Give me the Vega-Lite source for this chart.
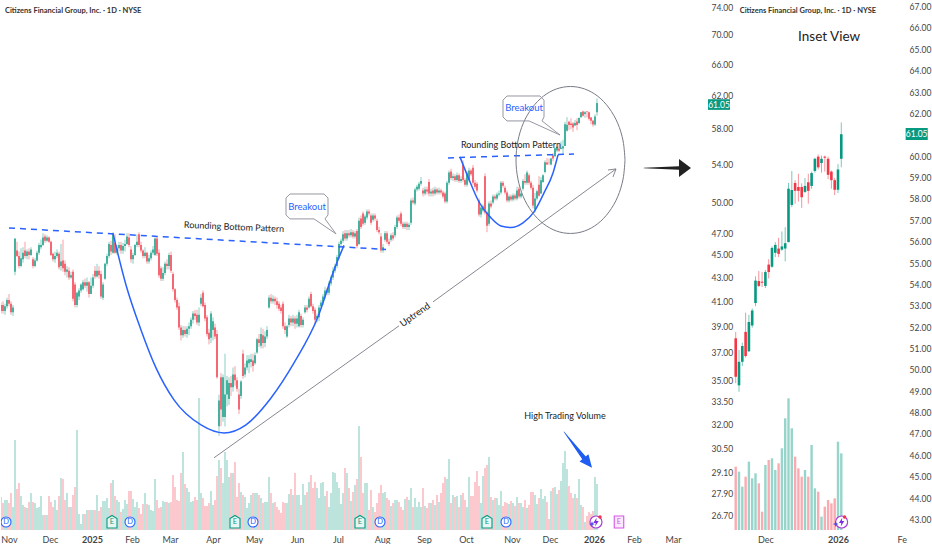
{
"$schema":"https://vega.github.io/schema/vega-lite/v6.json",
"description":"Citizens Financial Group daily chart with rounding bottom patterns and inset view",
"background":"white",
"padding":0,
"spacing":0,
"config":{"view":{"stroke":null},"font":"Lato"},
"datasets":{"bars":[
{"b":0,"o":40.2,"h":40.9,"l":40,"c":40.7,"v":3.3},{"b":1,"o":40.7,"h":41,"l":40,"c":40.2,"v":2.7},{"b":2,"o":40.2,"h":40.8,"l":39.9,"c":40.6,"v":3},{"b":3,"o":40.6,"h":41.3,"l":40.4,"c":41.1,"v":3},{"b":4,"o":41.1,"h":41.6,"l":40.6,"c":40.8,"v":2.7},{"b":5,"o":40.8,"h":41,"l":39.9,"c":40.1,"v":3.7},{"b":6,"o":40.1,"h":40.7,"l":39.8,"c":40.5,"v":2.3},{"b":7,"o":43.5,"h":46.5,"l":43.2,"c":46.5,"v":9},{"b":8,"o":45.4,"h":46.2,"l":44.8,"c":44.9,"v":4.1},{"b":9,"o":44.9,"h":45.3,"l":43.8,"c":44,"v":4.7},
{"b":10,"o":44,"h":45.6,"l":43.9,"c":44.7,"v":3.4},{"b":11,"o":44.6,"h":45.7,"l":44.3,"c":45.2,"v":2.5},{"b":12,"o":45.4,"h":46.2,"l":44.7,"c":44.9,"v":2.3},{"b":13,"o":44.9,"h":45.5,"l":44.6,"c":45.3,"v":2.2},{"b":14,"o":45.3,"h":45.6,"l":44.6,"c":45,"v":2.8},{"b":15,"o":45,"h":45.7,"l":44.9,"c":45.5,"v":3.7},{"b":16,"o":44.6,"h":44.8,"l":43.8,"c":44,"v":2.8},{"b":17,"o":44,"h":44.7,"l":43.9,"c":44.5,"v":2.7},{"b":18,"o":44.5,"h":45.4,"l":44.4,"c":45.2,"v":2.2},{"b":19,"o":45.2,"h":46.1,"l":45,"c":45.9,"v":2.3},
{"b":20,"o":45.7,"h":46.4,"l":45.5,"c":45.9,"v":3.4},{"b":21,"o":45.9,"h":47,"l":45.8,"c":46.6,"v":1.5},{"b":22,"o":46.7,"h":46.9,"l":46.1,"c":46.3,"v":1.5},{"b":23,"o":46.3,"h":46.8,"l":46.2,"c":46.6,"v":1.5},{"b":24,"o":46.6,"h":46.7,"l":46.1,"c":46.2,"v":3.4},{"b":25,"o":46.2,"h":46.3,"l":44.9,"c":45,"v":2.8},{"b":26,"o":45.1,"h":45.2,"l":44.4,"c":44.6,"v":2.3},{"b":27,"o":44.6,"h":45.3,"l":44.3,"c":44.9,"v":3},{"b":28,"o":44.9,"h":45.5,"l":44.7,"c":45.2,"v":2},{"b":29,"o":45.1,"h":45.3,"l":43.7,"c":43.9,"v":3.4},
{"b":30,"o":44,"h":46,"l":43.6,"c":44.4,"v":5.2},{"b":31,"o":44.5,"h":46.4,"l":43.5,"c":43.8,"v":5.1},{"b":32,"o":44.2,"h":44.5,"l":43.2,"c":43.5,"v":3},{"b":33,"o":43.5,"h":44,"l":43,"c":43.7,"v":3.7},{"b":34,"o":43.6,"h":43.9,"l":42.8,"c":43,"v":2.3},{"b":35,"o":43,"h":43.5,"l":42.9,"c":43.2,"v":2.3},{"b":36,"o":43.5,"h":43.7,"l":41,"c":41.2,"v":3.5},{"b":37,"o":42.4,"h":42.6,"l":40.5,"c":40.7,"v":4.3},{"b":38,"o":40.7,"h":41.8,"l":40.5,"c":41.7,"v":10},{"b":39,"o":41.4,"h":42.1,"l":41.1,"c":41.9,"v":1.6},
{"b":40,"o":41.9,"h":42.5,"l":41.7,"c":42.4,"v":0.6},{"b":41,"o":42,"h":42.8,"l":41.9,"c":42.6,"v":1.6},{"b":42,"o":42.6,"h":42.9,"l":42.1,"c":42.3,"v":1.6},{"b":43,"o":42.3,"h":43,"l":41.8,"c":42.6,"v":2},{"b":44,"o":42.6,"h":42.7,"l":41.3,"c":41.6,"v":2},{"b":45,"o":41.6,"h":43,"l":41.6,"c":42.3,"v":2},{"b":46,"o":42.3,"h":43.3,"l":42.1,"c":43,"v":2},{"b":47,"o":43.6,"h":44,"l":42.9,"c":43.1,"v":2},{"b":48,"o":43.1,"h":44.2,"l":43,"c":43.6,"v":3.5},{"b":49,"o":43.6,"h":44,"l":42.9,"c":43.2,"v":1.9},
{"b":50,"o":43.3,"h":43.6,"l":41.2,"c":41.4,"v":2.3},{"b":51,"o":41.3,"h":42.6,"l":41.1,"c":42.4,"v":2.9},{"b":52,"o":42.9,"h":44.3,"l":42.8,"c":44.2,"v":2.9},{"b":53,"o":44.2,"h":45.1,"l":44,"c":44.9,"v":3.2},{"b":54,"o":44.9,"h":46.2,"l":44.7,"c":46,"v":2.2},{"b":55,"o":45.9,"h":46.3,"l":45,"c":45.3,"v":4.7},{"b":56,"o":45.2,"h":47.1,"l":45.1,"c":46.9,"v":5},{"b":57,"o":46.1,"h":46.9,"l":45.1,"c":45.2,"v":3.4},{"b":58,"o":45.2,"h":45.9,"l":45,"c":45.6,"v":3},{"b":59,"o":45.6,"h":46.2,"l":45.3,"c":45.9,"v":2.8},
{"b":60,"o":45.9,"h":46.2,"l":45.1,"c":45.4,"v":1.8},{"b":61,"o":45.4,"h":46.1,"l":45.1,"c":45.8,"v":2.1},{"b":62,"o":45.8,"h":46.4,"l":45.3,"c":46,"v":3},{"b":63,"o":46,"h":47,"l":45.9,"c":46.7,"v":2.6},{"b":64,"o":46.6,"h":47,"l":45.7,"c":45.9,"v":3.9},{"b":65,"o":45.5,"h":45.8,"l":44.3,"c":44.6,"v":3.9},{"b":66,"o":44.6,"h":45.2,"l":44.2,"c":45,"v":3.1},{"b":67,"o":45,"h":46,"l":44.9,"c":45.9,"v":2.3},{"b":68,"o":45.9,"h":46.9,"l":45.7,"c":46.2,"v":2.8},{"b":69,"o":46.9,"h":47.1,"l":45.7,"c":45.9,"v":2.2},
{"b":70,"o":45.9,"h":46.2,"l":45.2,"c":45.4,"v":1.6},{"b":71,"o":45.4,"h":45.5,"l":44.7,"c":44.9,"v":2.6},{"b":72,"o":44.9,"h":45.7,"l":44.7,"c":45.2,"v":3.7},{"b":73,"o":45.2,"h":45.3,"l":44.2,"c":44.4,"v":2.6},{"b":74,"o":44.4,"h":45,"l":44.2,"c":44.7,"v":2.5},{"b":75,"o":44.7,"h":45.4,"l":44.5,"c":45.2,"v":2},{"b":76,"o":45.2,"h":45.8,"l":45,"c":45.5,"v":1.9},{"b":77,"o":45,"h":46.6,"l":44.9,"c":46.5,"v":5.1},{"b":78,"o":46.5,"h":46.7,"l":44.9,"c":45.1,"v":3},{"b":79,"o":45.2,"h":45.5,"l":43,"c":43.2,"v":2.2},
{"b":80,"o":43.8,"h":44,"l":42.7,"c":42.9,"v":2.3},{"b":81,"o":42.9,"h":43.9,"l":42.7,"c":43.4,"v":2.9},{"b":82,"o":43.4,"h":44.4,"l":43.2,"c":44.2,"v":2.8},{"b":83,"o":44.2,"h":44.6,"l":43.7,"c":44,"v":2.8},{"b":84,"o":44,"h":45.2,"l":43.7,"c":45,"v":2.7},{"b":85,"o":45,"h":45.3,"l":43.4,"c":43.6,"v":2.8},{"b":86,"o":43.3,"h":43.5,"l":41.8,"c":42,"v":5.5},{"b":87,"o":42,"h":42.1,"l":40.9,"c":41.1,"v":4.3},{"b":88,"o":41.1,"h":41.3,"l":40.3,"c":40.5,"v":3},{"b":89,"o":40.6,"h":40.9,"l":38.7,"c":38.9,"v":2.9},
{"b":90,"o":38.9,"h":39.1,"l":37.9,"c":38.3,"v":5.7},{"b":91,"o":38.3,"h":39,"l":38.1,"c":38.7,"v":7.8},{"b":92,"o":38.7,"h":39,"l":38.2,"c":38.4,"v":4.6},{"b":93,"o":38.4,"h":39,"l":38.1,"c":38.8,"v":4.2},{"b":94,"o":38.8,"h":39.3,"l":38.3,"c":39,"v":3.8},{"b":95,"o":39,"h":39.7,"l":38.8,"c":39.5,"v":2.8},{"b":96,"o":39.5,"h":40.2,"l":39.2,"c":40,"v":2.9},{"b":97,"o":40,"h":40.3,"l":39.5,"c":39.8,"v":3.3},{"b":98,"o":39.9,"h":40.3,"l":39.1,"c":39.3,"v":3},{"b":99,"o":39.3,"h":40.5,"l":39,"c":39.9,"v":13.2},
{"b":100,"o":40.8,"h":41.6,"l":40.6,"c":41.3,"v":3.7},{"b":101,"o":41.7,"h":41.9,"l":40.5,"c":40.6,"v":3.2},{"b":102,"o":40.7,"h":40.9,"l":39.4,"c":39.6,"v":2.4},{"b":103,"o":39.7,"h":39.9,"l":38.2,"c":38.4,"v":2.4},{"b":104,"o":38.5,"h":38.8,"l":37.6,"c":38,"v":2.7},{"b":105,"o":38.1,"h":40.2,"l":37.7,"c":40,"v":3.9},{"b":106,"o":38.7,"h":39.7,"l":37.9,"c":39.4,"v":2.5},{"b":107,"o":38.9,"h":39.2,"l":38,"c":38.2,"v":3},{"b":108,"o":38.4,"h":38.7,"l":35.1,"c":35.2,"v":5.4},{"b":109,"o":31.9,"h":34,"l":31.3,"c":33.6,"v":7},
{"b":110,"o":35.2,"h":35.5,"l":31.9,"c":33,"v":6.2},{"b":111,"o":32.5,"h":35.4,"l":32.2,"c":35.2,"v":4.7},{"b":112,"o":32.5,"h":36.9,"l":31.9,"c":34,"v":7.8},{"b":113,"o":34,"h":35.3,"l":33.2,"c":35,"v":7},{"b":114,"o":33.7,"h":35.2,"l":33.3,"c":34.8,"v":5.3},{"b":115,"o":34.8,"h":35.3,"l":33.9,"c":34.5,"v":5.7},{"b":116,"o":34.5,"h":35.9,"l":34.2,"c":35.4,"v":5.7},{"b":117,"o":35.4,"h":36,"l":34.6,"c":35,"v":6.8},{"b":118,"o":35,"h":35.2,"l":34.2,"c":34.4,"v":3.3},{"b":119,"o":34,"h":34.4,"l":32.7,"c":33,"v":4.7},
{"b":120,"o":33.9,"h":35,"l":33.7,"c":34.9,"v":3.8},{"b":121,"o":36.9,"h":37.2,"l":35.1,"c":35.3,"v":3.5},{"b":122,"o":35.4,"h":36.2,"l":35.2,"c":35.9,"v":3.3},{"b":123,"o":35.9,"h":36.8,"l":35.7,"c":36.4,"v":2.2},{"b":124,"o":36.2,"h":36.8,"l":35.5,"c":36.5,"v":2.7},{"b":125,"o":36.3,"h":36.9,"l":35.9,"c":36.5,"v":3.5},{"b":126,"o":36.4,"h":36.9,"l":35.6,"c":36,"v":3.7},{"b":127,"o":36.2,"h":37,"l":36.1,"c":36.8,"v":3.7},{"b":128,"o":37,"h":38.1,"l":36.9,"c":38,"v":3.7},{"b":129,"o":38,"h":38.4,"l":37.4,"c":37.7,"v":3.5},
{"b":130,"o":37.5,"h":38.9,"l":37.3,"c":38.4,"v":3.2},{"b":131,"o":38.3,"h":38.8,"l":37.3,"c":37.7,"v":2.7},{"b":132,"o":37.7,"h":38.6,"l":37.4,"c":38.2,"v":2.8},{"b":133,"o":38.2,"h":39,"l":38,"c":38.7,"v":2.8},{"b":134,"o":40.5,"h":41.5,"l":40.4,"c":41.3,"v":5.3},{"b":135,"o":41.3,"h":41.6,"l":40.8,"c":41,"v":3.7},{"b":136,"o":41,"h":41.5,"l":40.8,"c":41.2,"v":2.7},{"b":137,"o":41.2,"h":41.4,"l":40.7,"c":41,"v":2.8},{"b":138,"o":41,"h":41.3,"l":40.4,"c":40.7,"v":2.3},{"b":139,"o":40.8,"h":41,"l":40.2,"c":40.4,"v":2},
{"b":140,"o":40.5,"h":40.7,"l":40,"c":40.2,"v":1.7},{"b":141,"o":40.8,"h":41,"l":38.8,"c":39,"v":2.8},{"b":142,"o":39,"h":39.3,"l":38.4,"c":38.7,"v":2.7},{"b":143,"o":38.2,"h":39.1,"l":38.1,"c":39,"v":2.7},{"b":144,"o":39.1,"h":39.9,"l":38.9,"c":39.6,"v":3.6},{"b":145,"o":39.6,"h":39.8,"l":39,"c":39.3,"v":4.1},{"b":146,"o":39.3,"h":39.9,"l":39,"c":39.6,"v":3.5},{"b":147,"o":39.6,"h":39.8,"l":38.8,"c":39.2,"v":5.7},{"b":148,"o":39.2,"h":39.9,"l":38.9,"c":39.6,"v":3.5},{"b":149,"o":39,"h":40.3,"l":38.9,"c":40.1,"v":3.5},
{"b":150,"o":39.8,"h":40,"l":38.9,"c":39.1,"v":2.5},{"b":151,"o":39.1,"h":39.7,"l":38.9,"c":39.5,"v":4.6},{"b":152,"o":40.1,"h":40.7,"l":40,"c":40.5,"v":3.5},{"b":153,"o":40.5,"h":40.7,"l":40.1,"c":40.3,"v":3.8},{"b":154,"o":40.5,"h":41.4,"l":40.4,"c":41.2,"v":4.8},{"b":155,"o":41.6,"h":41.8,"l":40.5,"c":40.6,"v":5.5},{"b":156,"o":40.6,"h":40.8,"l":40,"c":40.2,"v":4.2},{"b":157,"o":40.3,"h":40.5,"l":39.2,"c":39.5,"v":4.8},{"b":158,"o":39.6,"h":40,"l":39.3,"c":39.8,"v":4.2},{"b":159,"o":39.7,"h":40.7,"l":39.4,"c":40.5,"v":3.2},
{"b":160,"o":40.6,"h":41.1,"l":40.4,"c":40.9,"v":4.7},{"b":161,"o":40.9,"h":41.6,"l":40.7,"c":41.4,"v":4.8},{"b":162,"o":41.4,"h":42.2,"l":41.2,"c":41.9,"v":3.4},{"b":163,"o":41.9,"h":42.1,"l":41.5,"c":41.7,"v":3.9},{"b":164,"o":41.7,"h":42.7,"l":41.5,"c":42.5,"v":2.3},{"b":165,"o":42.5,"h":43.2,"l":42.3,"c":43,"v":3.7},{"b":166,"o":43,"h":43.9,"l":42.8,"c":43.6,"v":5.8},{"b":167,"o":43.6,"h":44.2,"l":43.4,"c":44,"v":5.7},{"b":168,"o":44,"h":45,"l":43.8,"c":44.8,"v":4.8},{"b":169,"o":44.8,"h":46.2,"l":44.6,"c":46,"v":4.2},
{"b":170,"o":46,"h":46.5,"l":45.8,"c":46.3,"v":2.6},{"b":171,"o":46.3,"h":47.2,"l":46.1,"c":46.9,"v":3.7},{"b":172,"o":47,"h":47.3,"l":46.3,"c":46.5,"v":6.2},{"b":173,"o":46.5,"h":47.3,"l":46.3,"c":47,"v":5.7},{"b":174,"o":47,"h":47.3,"l":46.6,"c":46.8,"v":4.2},{"b":175,"o":46.8,"h":47.4,"l":46.6,"c":47.1,"v":2.9},{"b":176,"o":47.1,"h":47.3,"l":46.5,"c":46.7,"v":3.8},{"b":177,"o":46.7,"h":47.2,"l":46.5,"c":47,"v":4.5},{"b":178,"o":47.2,"h":47.4,"l":45.6,"c":45.8,"v":5.1},{"b":179,"o":46,"h":48.5,"l":45.9,"c":48.2,"v":10.4},
{"b":180,"o":48.4,"h":48.7,"l":47.4,"c":47.6,"v":7.3},{"b":181,"o":48.9,"h":49.1,"l":47.7,"c":47.9,"v":3.7},{"b":182,"o":48,"h":48.8,"l":47.8,"c":48.6,"v":4.7},{"b":183,"o":48.5,"h":49.3,"l":48.3,"c":49.1,"v":4.7},{"b":184,"o":49.1,"h":49.3,"l":48.7,"c":48.9,"v":2},{"b":185,"o":48.7,"h":48.9,"l":47.8,"c":48,"v":4},{"b":186,"o":48.3,"h":48.9,"l":48.1,"c":48.7,"v":2.3},{"b":187,"o":48.7,"h":48.9,"l":48.2,"c":48.4,"v":1.8},{"b":188,"o":48.2,"h":48.4,"l":47.1,"c":47.3,"v":2.7},{"b":189,"o":47.3,"h":47.6,"l":46.9,"c":47.1,"v":3.7},
{"b":190,"o":46.7,"h":47,"l":45.2,"c":45.4,"v":4.5},{"b":191,"o":45.4,"h":46,"l":45.2,"c":45.7,"v":3.7},{"b":192,"o":46.4,"h":47.2,"l":46.2,"c":47,"v":3.8},{"b":193,"o":47,"h":47.2,"l":46,"c":46.2,"v":3.2},{"b":194,"o":46.2,"h":46.5,"l":45.8,"c":46,"v":3},{"b":195,"o":46.4,"h":47,"l":46.2,"c":46.8,"v":2.4},{"b":196,"o":46.8,"h":47.1,"l":46.3,"c":46.5,"v":2.7},{"b":197,"o":46.8,"h":47.8,"l":46.6,"c":47.6,"v":3},{"b":198,"o":47.6,"h":48.7,"l":47.4,"c":48.5,"v":3},{"b":199,"o":48.5,"h":48.8,"l":48,"c":48.2,"v":2.8},
{"b":200,"o":48.9,"h":49.1,"l":47.7,"c":47.9,"v":2.3},{"b":201,"o":47.9,"h":48.1,"l":47.4,"c":47.6,"v":2},{"b":202,"o":47.6,"h":48.1,"l":47.4,"c":47.9,"v":3.1},{"b":203,"o":47.9,"h":48.1,"l":47.3,"c":47.6,"v":3.3},{"b":204,"o":47.6,"h":48,"l":47.3,"c":47.8,"v":3},{"b":205,"o":48,"h":50.4,"l":47.8,"c":50.2,"v":4.2},{"b":206,"o":50.2,"h":50.5,"l":49.8,"c":50,"v":2.3},{"b":207,"o":49.9,"h":51.5,"l":49.7,"c":51.3,"v":3.2},{"b":208,"o":51.3,"h":51.8,"l":51.1,"c":51.6,"v":2.3},{"b":209,"o":51.4,"h":52.1,"l":51.2,"c":51.9,"v":2.8},
{"b":210,"o":51.9,"h":52.6,"l":51.7,"c":52.2,"v":2.3},{"b":211,"o":51.2,"h":51.5,"l":50.6,"c":50.9,"v":4.2},{"b":212,"o":50.9,"h":51.6,"l":50.7,"c":51.3,"v":2.4},{"b":213,"o":51.3,"h":51.6,"l":50.8,"c":51.1,"v":2.2},{"b":214,"o":52.1,"h":52.4,"l":50.6,"c":50.9,"v":2.7},{"b":215,"o":50.9,"h":51.4,"l":50.6,"c":51.1,"v":2.7},{"b":216,"o":51.2,"h":51.5,"l":50.6,"c":50.9,"v":3},{"b":217,"o":50.9,"h":51.6,"l":50.7,"c":51.3,"v":2.5},{"b":218,"o":51.3,"h":51.5,"l":50.8,"c":51,"v":3.5},{"b":219,"o":51,"h":51.5,"l":50.8,"c":51.2,"v":2.8},
{"b":220,"o":51.2,"h":51.4,"l":50.8,"c":51,"v":3.7},{"b":221,"o":51,"h":51.2,"l":50.4,"c":50.6,"v":4.7},{"b":222,"o":50.9,"h":51.1,"l":49.9,"c":50.1,"v":5.3},{"b":223,"o":50.1,"h":52.2,"l":49.9,"c":52,"v":5.1},{"b":224,"o":52,"h":53.3,"l":51.8,"c":53.1,"v":7.1},{"b":225,"o":53.2,"h":53.5,"l":52.3,"c":52.5,"v":2.7},{"b":226,"o":52.5,"h":53,"l":52.2,"c":52.7,"v":3.5},{"b":227,"o":52.7,"h":52.9,"l":52.1,"c":52.3,"v":3.3},{"b":228,"o":52.3,"h":53.1,"l":52.1,"c":52.8,"v":3.4},{"b":229,"o":52.8,"h":53,"l":52,"c":52.2,"v":2.3},
{"b":230,"o":52.2,"h":52.7,"l":52,"c":52.4,"v":3.5},{"b":231,"o":53.9,"h":54.4,"l":52.1,"c":52.3,"v":3.7},{"b":232,"o":52.3,"h":52.5,"l":51.6,"c":51.8,"v":3},{"b":233,"o":51.8,"h":53.2,"l":51.6,"c":53,"v":2.3},{"b":234,"o":52.3,"h":53.6,"l":52.1,"c":53.3,"v":5.3},{"b":235,"o":53.3,"h":53.5,"l":52.7,"c":52.9,"v":3.4},{"b":236,"o":53.6,"h":53.9,"l":51.8,"c":52,"v":3.4},{"b":237,"o":52,"h":52.3,"l":51.4,"c":51.6,"v":4.8},{"b":238,"o":51.9,"h":52.1,"l":51,"c":51.2,"v":5.9},{"b":239,"o":50.2,"h":50.4,"l":48.6,"c":48.8,"v":4.4},
{"b":240,"o":48.8,"h":49.7,"l":48.5,"c":49.5,"v":2.7},{"b":241,"o":49.2,"h":49.8,"l":49,"c":49.6,"v":5.4},{"b":242,"o":52.7,"h":53,"l":48.8,"c":49,"v":6.2},{"b":243,"o":49,"h":49.2,"l":47.1,"c":47.7,"v":6.5},{"b":244,"o":47.9,"h":50.1,"l":47.7,"c":49.9,"v":7.3},{"b":245,"o":49.9,"h":50.2,"l":49.4,"c":49.6,"v":3.3},{"b":246,"o":50,"h":50.8,"l":49.8,"c":50.6,"v":3},{"b":247,"o":50.6,"h":50.8,"l":50.2,"c":50.4,"v":3.2},{"b":248,"o":50.4,"h":51,"l":50.2,"c":50.8,"v":3.2},{"b":249,"o":50.8,"h":51.2,"l":50.6,"c":50.9,"v":2.5},
{"b":250,"o":51,"h":52.2,"l":50.8,"c":52,"v":3.9},{"b":251,"o":52,"h":52.2,"l":51.5,"c":51.7,"v":2.4},{"b":252,"o":51.5,"h":51.7,"l":50.8,"c":51,"v":2.8},{"b":253,"o":51,"h":51.2,"l":50,"c":50.2,"v":2.7},{"b":254,"o":50.2,"h":50.8,"l":50,"c":50.6,"v":2.6},{"b":255,"o":50.6,"h":50.8,"l":50.1,"c":50.3,"v":2.9},{"b":256,"o":50.3,"h":50.9,"l":50.1,"c":50.7,"v":2.7},{"b":257,"o":50.7,"h":50.9,"l":50.2,"c":50.4,"v":2.4},{"b":258,"o":50.4,"h":51.6,"l":50.2,"c":51.2,"v":3.3},{"b":259,"o":51.4,"h":51.6,"l":50.4,"c":50.6,"v":2.7},
{"b":260,"o":50.6,"h":51.1,"l":50.4,"c":50.9,"v":2.7},{"b":261,"o":51.4,"h":52.4,"l":51.2,"c":52.2,"v":2.3},{"b":262,"o":52.2,"h":52.9,"l":51.8,"c":52,"v":3},{"b":263,"o":52,"h":53.3,"l":51.8,"c":53.1,"v":2.2},{"b":264,"o":52.8,"h":53,"l":51.8,"c":52,"v":2.5},{"b":265,"o":52,"h":52.2,"l":51.3,"c":51.5,"v":3.8},
{"b":266,"o":51.5,"h":51.8,"l":49.4,"c":49.7,"v":3.8},{"b":267,"o":49.3,"h":50.95,"l":49,"c":50.4,"v":3.5},{"b":268,"o":50.4,"h":51.3,"l":50.2,"c":51.14,"v":2.6},{"b":269,"o":51.8,"h":52.7,"l":50.6,"c":50.67,"v":3.2},{"b":270,"o":50.9,"h":52.6,"l":50.86,"c":52.26,"v":4.1},{"b":271,"o":52.1,"h":52.9,"l":52,"c":52.8,"v":3.1},{"b":272,"o":53.15,"h":54.4,"l":53,"c":54.2,"v":3.4},{"b":273,"o":54.18,"h":54.65,"l":53.9,"c":53.95,"v":2.8},{"b":274,"o":54.15,"h":54.6,"l":53.9,"c":54.1,"v":1.1},{"b":275,"o":53.95,"h":54.7,"l":53.85,"c":54.6,"v":3.9},
{"b":276,"o":54.95,"h":55.2,"l":54.3,"c":54.6,"v":4.2},{"b":277,"o":54.85,"h":55.8,"l":54.8,"c":55.73,"v":4.3},{"b":278,"o":55.5,"h":56,"l":55.3,"c":55.87,"v":3.6},{"b":279,"o":55.7,"h":56.2,"l":55.3,"c":55.45,"v":4},{"b":280,"o":55.65,"h":56.5,"l":55.6,"c":55.8,"v":4.9},{"b":281,"o":55.7,"h":56.7,"l":55.1,"c":55.95,"v":6.7},{"b":282,"o":56,"h":58.77,"l":56,"c":58.5,"v":7.9},{"b":283,"o":57.74,"h":59.33,"l":57.64,"c":58.44,"v":6.1},{"b":284,"o":58.77,"h":58.9,"l":57.8,"c":58.4,"v":4.4},{"b":285,"o":58.58,"h":59.2,"l":57.9,"c":58.4,"v":3.7},
{"b":286,"o":58.58,"h":58.75,"l":57.6,"c":58.1,"v":3.2},{"b":287,"o":58.35,"h":59,"l":58.3,"c":58.63,"v":3.6},{"b":288,"o":58.8,"h":59.2,"l":57.8,"c":58.4,"v":3.2},{"b":289,"o":58.63,"h":59.3,"l":58.5,"c":59.23,"v":5.1},{"b":290,"o":59.33,"h":59.95,"l":59.25,"c":59.9,"v":2.5},{"b":291,"o":60,"h":60.1,"l":59.4,"c":59.5,"v":2.3},{"b":292,"o":59.7,"h":60.05,"l":59.25,"c":59.9,"v":0.8},{"b":293,"o":60,"h":60.05,"l":59.3,"c":59.95,"v":1.4},{"b":294,"o":59.9,"h":60,"l":58.95,"c":59.15,"v":1.8},{"b":295,"o":59.3,"h":59.35,"l":58.5,"c":58.9,"v":1.6},
{"b":296,"o":58.9,"h":59,"l":58.2,"c":58.45,"v":1.9},{"b":297,"o":58.45,"h":59.65,"l":58.3,"c":59.4,"v":5.3},{"b":298,"o":59.9,"h":61.6,"l":59.5,"c":61.05,"v":4.6}
]},
"hconcat":[
{"width":705,"height":530,
 "encoding":{"x":{"field":"b","type":"quantitative","scale":{"domain":[0,352.5],"padding":0,"nice":false},
   "axis":{"title":null,"grid":false,"domain":false,"ticks":false,"labelOverlap":false,"labelFontSize":9,"labelColor":"#444","labelPadding":5,"labelAngle":0,
   "labelFontWeight":{"condition":{"test":"datum.value==45.5||datum.value==296.5","value":"bold"},"value":"normal"},
   "values":[4,24.5,45.5,65.5,84.5,106,126.5,148,168.5,190.5,211.5,232.5,255.5,274.5,296.5,316.5,336],
   "labelExpr":"['Nov','Dec','2025','Feb','Mar','Apr','May','Jun','Jul','Aug','Sep','Oct','Nov','Dec','2026','Feb','Mar'][indexof([4,24.5,45.5,65.5,84.5,106,126.5,148,168.5,190.5,211.5,232.5,255.5,274.5,296.5,316.5,336],datum.value)]"}}},
 "layer":[
 {"resolve":{"scale":{"y":"shared"},"axis":{"y":"shared"}},"layer":[
  {"data":{"name":"bars"},"mark":{"type":"bar","size":1.4,"opacity":0.38,"clip":true},
   "encoding":{"y":{"field":"v","type":"quantitative","scale":{"domain":[0,53],"nice":false},"axis":null},
   "color":{"condition":{"test":"datum.c>=datum.o","value":"#089981"},"value":"#f23645"}}},
  {"data":{"values":[{"b":2.5,"v":0.8,"t":"D"},{"b":64.5,"v":0.8,"t":"D"},{"b":126,"v":0.8,"t":"D"},{"b":189.5,"v":0.8,"t":"D"},{"b":252.5,"v":0.8,"t":"D"}]},"mark":{"type":"point","shape":"circle","size":100,"filled":true,"fill":"white","stroke":"#2962ff","strokeWidth":1.1,"opacity":1,"clip":true},"encoding":{"y":{"field":"v","type":"quantitative","axis":null}}},
  {"data":{"values":[{"b":2.5,"v":0.8,"t":"D"},{"b":64.5,"v":0.8,"t":"D"},{"b":126,"v":0.8,"t":"D"},{"b":189.5,"v":0.8,"t":"D"},{"b":252.5,"v":0.8,"t":"D"}]},"mark":{"type":"text","fontSize":7.5,"color":"#2962ff"},"encoding":{"y":{"field":"v","type":"quantitative","axis":null},"text":{"field":"t"}}},
  {"data":{"values":[{"b":55.5,"v":0.8,"t":"E"},{"b":117,"v":0.8,"t":"E"},{"b":179.5,"v":0.8,"t":"E"},{"b":243,"v":0.8,"t":"E"}]},"mark":{"type":"point","shape":"M-1,-0.7L0,-1.3L1,-0.7L1,1.2L-1,1.2Z","size":100,"filled":true,"fill":"#e8f6f3","stroke":"#089981","strokeWidth":1.1,"opacity":1},"encoding":{"y":{"field":"v","type":"quantitative","axis":null}}},
  {"data":{"values":[{"b":55.5,"v":0.8,"t":"E"},{"b":117,"v":0.8,"t":"E"},{"b":179.5,"v":0.8,"t":"E"},{"b":243,"v":0.8,"t":"E"}]},"mark":{"type":"text","fontSize":7.5,"color":"#089981"},"encoding":{"y":{"field":"v","type":"quantitative","axis":null},"text":{"field":"t"}}},
  {"data":{"values":[{"b":309,"v":0.8,"t":"E"}]},"mark":{"type":"point","shape":"M-1,-1.25L1,-1.25L1,1.25L-1,1.25Z","size":90,"filled":true,"fill":"#fbeafd","stroke":"#d457e6","strokeWidth":1.1,"opacity":1},"encoding":{"y":{"field":"v","type":"quantitative","axis":null}}},
  {"data":{"values":[{"b":309,"v":0.8,"t":"E"}]},"mark":{"type":"text","fontSize":7.5,"color":"#d457e6"},"encoding":{"y":{"field":"v","type":"quantitative","axis":null},"text":{"field":"t"}}},
  {"data":{"values":[{"b":297.5,"v":0.8}]},"mark":{"type":"point","shape":"circle","size":144,"filled":true,"fill":"white","stroke":"#a83fd6","strokeWidth":1.2,"opacity":1},"encoding":{"y":{"field":"v","type":"quantitative","axis":null}}},
  {"data":{"values":[{"b":297.5,"v":0.8}]},"mark":{"type":"point","shape":"M0.1,-0.7L-0.45,0.15L-0.05,0.15L-0.15,0.75L0.45,-0.15L0.05,-0.15Z","size":144,"filled":true,"color":"#7e2fe0","opacity":1},"encoding":{"y":{"field":"v","type":"quantitative","axis":null}}},
  {"data":{"values":[{"b":295.5,"v":0.6}]},"mark":{"type":"point","shape":"M0,-1L0.25,-0.25L1,0L0.25,0.25L0,1L-0.25,0.25L-1,0L-0.25,-0.25Z","size":36,"filled":true,"color":"#4a4ae8","opacity":1},"encoding":{"y":{"field":"v","type":"quantitative","axis":null}}},
  {"data":{"values":[{"b":299.5,"v":1.3}]},"mark":{"type":"point","shape":"circle","size":12,"filled":true,"color":"#f23645","opacity":1},"encoding":{"y":{"field":"v","type":"quantitative","axis":null}}}
 ]},
 {"resolve":{"scale":{"y":"shared"},"axis":{"y":"shared"}},"layer":[
  {"data":{"name":"bars"},"mark":{"type":"rule","strokeWidth":0.8,"opacity":0.6,"clip":true},
   "encoding":{"y":{"field":"l","type":"quantitative","scale":{"type":"log","domain":[25.91,75.05],"nice":false},
     "axis":{"orient":"right","title":null,"grid":false,"domain":false,"ticks":false,"labelPadding":5,"labelFontSize":8.5,"labelColor":"#444","format":".2f","labelOverlap":false,
     "values":[74,70,66,62,58,54,50,47,45,43,41,39,37,35,33.5,32,30.5,29.1,27.9,26.7]}},
   "y2":{"field":"h"},
   "color":{"condition":{"test":"datum.c>=datum.o","value":"#089981"},"value":"#f23645"}}},
  {"data":{"name":"bars"},"mark":{"type":"bar","size":1.5,"opacity":0.9,"clip":true},
   "encoding":{"y":{"field":"o","type":"quantitative"},"y2":{"field":"c"},
   "color":{"condition":{"test":"datum.c>=datum.o","value":"#089981"},"value":"#f23645"}}},
  {"data":{"values":[{"b":4,"p":47.5},{"b":192.5,"p":45.5}]},"mark":{"type":"line","color":"#2962ff","strokeWidth":1.5,"strokeDash":[6,5]},"encoding":{"y":{"field":"p","type":"quantitative"}}},
  {"data":{"values":[{"b":223.5,"p":54.67},{"b":286.5,"p":55.1}]},"mark":{"type":"line","color":"#2962ff","strokeWidth":1.5,"strokeDash":[6,5]},"encoding":{"y":{"field":"p","type":"quantitative"}}},
  {"data":{"values":[{"b":56,"p":46.98},{"b":62.5,"p":42.36},{"b":70,"p":38.71},{"b":77.5,"p":35.87},{"b":86.5,"p":33.64},{"b":100,"p":31.99},{"b":111.5,"p":31.48},{"b":122.5,"p":32},{"b":135,"p":33.77},{"b":146.5,"p":36.23},{"b":158.5,"p":39.74},{"b":166.5,"p":43.66},{"b":171.5,"p":45.87}]},"mark":{"type":"line","color":"#2962ff","strokeWidth":1.5,"interpolate":"monotone"},"encoding":{"y":{"field":"p","type":"quantitative"}}},
  {"data":{"values":[{"b":229.5,"p":54.77},{"b":233.5,"p":52.62},{"b":239,"p":50.04},{"b":245,"p":48.47},{"b":250,"p":47.69},{"b":255,"p":47.54},{"b":261,"p":47.99},{"b":266.5,"p":49.05},{"b":271.5,"p":50.96},{"b":276,"p":53.04},{"b":278.5,"p":55}]},"mark":{"type":"line","color":"#2962ff","strokeWidth":1.5,"interpolate":"monotone"},"encoding":{"y":{"field":"p","type":"quantitative"}}},
  {"data":{"values":[{"g":"a","n":1,"b":106.5,"p":29.95},{"g":"a","n":2,"b":199,"p":39.03},{"g":"b","n":1,"b":216,"p":40.95},{"g":"b","n":2,"b":307.5,"p":53.47},{"g":"c","n":1,"b":303.5,"p":53.36},{"g":"c","n":2,"b":307.5,"p":53.47},{"g":"c","n":3,"b":306,"p":52.62}]},"mark":{"type":"line","color":"#787b86","strokeWidth":0.9},"encoding":{"y":{"field":"p","type":"quantitative"},"detail":{"field":"g"},"order":{"field":"n"}}},
  {"data":{"values":[{"n":1,"b":312,"p":54.44},{"n":2,"b":311.05,"p":52.41},{"n":3,"b":308.35,"p":50.57},{"n":4,"b":304,"p":49.05},{"n":5,"b":298.4,"p":47.91},{"n":6,"b":291.8,"p":47.21},{"n":7,"b":284.75,"p":46.98},{"n":8,"b":277.7,"p":47.21},{"n":9,"b":271.15,"p":47.91},{"n":10,"b":265.5,"p":49.05},{"n":11,"b":261.15,"p":50.57},{"n":12,"b":258.45,"p":52.41},{"n":13,"b":257.5,"p":54.44},{"n":14,"b":258.45,"p":56.56},{"n":15,"b":261.15,"p":58.61},{"n":16,"b":265.5,"p":60.43},{"n":17,"b":271.15,"p":61.87},{"n":18,"b":277.7,"p":62.78},{"n":19,"b":284.75,"p":63.09},{"n":20,"b":291.8,"p":62.78},{"n":21,"b":298.4,"p":61.87},{"n":22,"b":304,"p":60.43},{"n":23,"b":308.35,"p":58.61},{"n":24,"b":311.05,"p":56.56},{"n":25,"b":312,"p":54.44}]},"mark":{"type":"line","color":"#787b86","strokeWidth":1,"interpolate":"cardinal"},"encoding":{"y":{"field":"p","type":"quantitative"},"order":{"field":"n"}}},
  {"data":{"values":[{"n":1,"b":144.5,"p":50.85},{"n":2,"b":161.5,"p":50.85},{"n":3,"b":163.5,"p":50.45},{"n":4,"b":163.5,"p":48.76},{"n":5,"b":162,"p":48.37},{"n":6,"b":167.5,"p":46.94},{"n":7,"b":156.5,"p":48.37},{"n":8,"b":144.5,"p":48.37},{"n":9,"b":142.5,"p":48.76},{"n":10,"b":142.5,"p":50.45},{"n":11,"b":144.5,"p":50.85}]},"mark":{"type":"line","color":"#9598a1","strokeWidth":1},"encoding":{"y":{"field":"p","type":"quantitative"},"order":{"field":"n"}}},
  {"data":{"values":[{"n":1,"b":253,"p":61.9},{"n":2,"b":269.5,"p":61.9},{"n":3,"b":271.5,"p":61.39},{"n":4,"b":271.5,"p":59.35},{"n":5,"b":270.5,"p":58.88},{"n":6,"b":279.5,"p":57.24},{"n":7,"b":264,"p":58.88},{"n":8,"b":253,"p":58.88},{"n":9,"b":251,"p":59.35},{"n":10,"b":251,"p":61.39},{"n":11,"b":253,"p":61.9}]},"mark":{"type":"line","color":"#9598a1","strokeWidth":1},"encoding":{"y":{"field":"p","type":"quantitative"},"order":{"field":"n"}}},
  {"data":{"values":[{"b":281.5,"p":31.55,"s":0.6},{"b":291.5,"p":29.95,"s":4.5}]},"mark":{"type":"trail","color":"#1f5cf0"},"encoding":{"y":{"field":"p","type":"quantitative"},"size":{"field":"s","type":"quantitative","scale":null,"legend":null}}},
  {"data":{"values":[{"b":293.5,"p":29.65}]},"mark":{"type":"point","shape":"M-1,-0.9L1,0L-1,0.9Z","size":164,"angle":51,"filled":true,"color":"#1f5cf0","opacity":1},"encoding":{"y":{"field":"p","type":"quantitative"}}},
  {"data":{"values":[{"b":321.5,"p":53.58,"s":0.6},{"b":339,"p":53.58,"s":3.5}]},"mark":{"type":"trail","color":"#222"},"encoding":{"y":{"field":"p","type":"quantitative"},"size":{"field":"s","type":"quantitative","scale":null,"legend":null}}},
  {"data":{"values":[{"b":342,"p":53.58}]},"mark":{"type":"point","shape":"M-1,-1.5L1,0L-1,1.5Z","size":144,"filled":true,"color":"#222","opacity":1},"encoding":{"y":{"field":"p","type":"quantitative"}}},
  {"data":{"values":[{"b":153,"p":49.55,"t":"Breakout"},{"b":261.5,"p":60.43,"t":"Breakout"}]},"mark":{"type":"text","fontSize":9.5,"color":"#2962ff"},"encoding":{"y":{"field":"p","type":"quantitative"},"text":{"field":"t"}}},
  {"data":{"values":[{"b":116.5,"p":47.6,"t":"Rounding Bottom Pattern"}]},"mark":{"type":"text","fontSize":9,"color":"#222","angle":2.5},"encoding":{"y":{"field":"p","type":"quantitative"},"text":{"field":"t"}}},
  {"data":{"values":[{"b":255,"p":56.11,"t":"Rounding Bottom Pattern"},{"b":282,"p":32.58,"t":"High Trading Volume"}]},"mark":{"type":"text","fontSize":9,"color":"#222"},"encoding":{"y":{"field":"p","type":"quantitative"},"text":{"field":"t"}}},
  {"data":{"values":[{"b":207,"p":39.9,"t":"Uptrend"}]},"mark":{"type":"text","fontSize":9.5,"color":"#222","angle":-35.5},"encoding":{"y":{"field":"p","type":"quantitative"},"text":{"field":"t"}}},
  {"data":{"values":[{"b":2,"p":73.4,"t":"Citizens Financial Group, Inc. · 1D · NYSE"}]},"mark":{"type":"text","fontSize":7.5,"fontWeight":"bold","align":"left","color":"#333"},"encoding":{"y":{"field":"p","type":"quantitative"},"text":{"field":"t"}}},
  {"data":{"values":[{"b":353.5,"b2":364.5,"p":61.5,"p2":60.2}]},"mark":{"type":"rect","color":"#089981"},"encoding":{"x2":{"field":"b2"},"y":{"field":"p","type":"quantitative"},"y2":{"field":"p2"}}},
  {"data":{"values":[{"b":359,"p":60.85,"t":"61.05"}]},"mark":{"type":"text","fontSize":8.5,"color":"white"},"encoding":{"y":{"field":"p","type":"quantitative"},"text":{"field":"t"}}}
 ]}
 ],
 "resolve":{"scale":{"y":"independent"}}
},
{"width":176,"height":530,
 "encoding":{"x":{"field":"b","type":"quantitative","scale":{"domain":[265.18,318.52],"padding":0,"nice":false},
   "axis":{"title":null,"grid":false,"domain":false,"ticks":false,"labelOverlap":false,"labelBound":false,"labelFontSize":9,"labelColor":"#444","labelPadding":5,"labelAngle":0,
   "labelFontWeight":{"condition":{"test":"datum.value==297","value":"bold"},"value":"normal"},
   "values":[275,297,316.3],
   "labelExpr":"['Dec','2026','Fe'][indexof([275,297,316.3],datum.value)]"}}},
 "layer":[
 {"resolve":{"scale":{"y":"shared"},"axis":{"y":"shared"}},"layer":[
  {"data":{"name":"bars"},"transform":[{"filter":"datum.b>=266"}],"mark":{"type":"bar","size":2.4,"opacity":0.42},
   "encoding":{"y":{"field":"v","type":"quantitative","scale":{"domain":[0,31.8],"nice":false},"axis":null},
   "color":{"condition":{"test":"datum.c>=datum.o","value":"#089981"},"value":"#f23645"}}},
  {"data":{"values":[{"b":298.1,"v":0.48}]},"mark":{"type":"point","shape":"circle","size":144,"filled":true,"fill":"white","stroke":"#a83fd6","strokeWidth":1.2,"opacity":1},"encoding":{"y":{"field":"v","type":"quantitative","axis":null}}},
  {"data":{"values":[{"b":298.1,"v":0.48}]},"mark":{"type":"point","shape":"M0.1,-0.7L-0.45,0.15L-0.05,0.15L-0.15,0.75L0.45,-0.15L0.05,-0.15Z","size":144,"filled":true,"color":"#7e2fe0","opacity":1},"encoding":{"y":{"field":"v","type":"quantitative","axis":null}}},
  {"data":{"values":[{"b":296.3,"v":0.36}]},"mark":{"type":"point","shape":"M0,-1L0.25,-0.25L1,0L0.25,0.25L0,1L-0.25,0.25L-1,0L-0.25,-0.25Z","size":36,"filled":true,"color":"#4a4ae8","opacity":1},"encoding":{"y":{"field":"v","type":"quantitative","axis":null}}},
  {"data":{"values":[{"b":299,"v":0.78}]},"mark":{"type":"point","shape":"circle","size":12,"filled":true,"color":"#f23645","opacity":1},"encoding":{"y":{"field":"v","type":"quantitative","axis":null}}}
 ]},
 {"resolve":{"scale":{"y":"shared"},"axis":{"y":"shared"}},"layer":[
  {"data":{"name":"bars"},"transform":[{"filter":"datum.b>=266"}],"mark":{"type":"rule","strokeWidth":0.9,"opacity":0.6},
   "encoding":{"y":{"field":"l","type":"quantitative","scale":{"domain":[42.53,67.33],"nice":false,"zero":false},"axis":null},
   "y2":{"field":"h"},
   "color":{"condition":{"test":"datum.c>=datum.o","value":"#089981"},"value":"#f23645"}}},
  {"data":{"name":"bars"},"transform":[{"filter":"datum.b>=266"}],"mark":{"type":"bar","size":2.6},
   "encoding":{"y":{"field":"o","type":"quantitative"},"y2":{"field":"c"},
   "color":{"condition":{"test":"datum.c>=datum.o","value":"#089981"},"value":"#f23645"}}},
  {"data":{"values":[{"b":267.2,"p":66.81,"t":"Citizens Financial Group, Inc. · 1D · NYSE"}]},"mark":{"type":"text","fontSize":7.5,"fontWeight":"bold","align":"left","color":"#333"},"encoding":{"y":{"field":"p","type":"quantitative"},"text":{"field":"t"}}},
  {"data":{"values":[{"b":294.3,"p":65.6,"t":"Inset View"}]},"mark":{"type":"text","fontSize":13.5,"color":"#222"},"encoding":{"y":{"field":"p","type":"quantitative"},"text":{"field":"t"}}},
  {"data":{"values":[{"b":318.7,"p":67,"t":"67.00"},{"b":318.7,"p":66,"t":"66.00"},{"b":318.7,"p":65,"t":"65.00"},{"b":318.7,"p":64,"t":"64.00"},{"b":318.7,"p":63,"t":"63.00"},{"b":318.7,"p":62,"t":"62.00"},{"b":318.7,"p":60,"t":"60.00"},{"b":318.7,"p":59,"t":"59.00"},{"b":318.7,"p":58,"t":"58.00"},{"b":318.7,"p":57,"t":"57.00"},{"b":318.7,"p":56,"t":"56.00"},{"b":318.7,"p":55,"t":"55.00"},{"b":318.7,"p":54,"t":"54.00"},{"b":318.7,"p":53,"t":"53.00"},{"b":318.7,"p":52,"t":"52.00"},{"b":318.7,"p":51,"t":"51.00"},{"b":318.7,"p":50,"t":"50.00"},{"b":318.7,"p":49,"t":"49.00"},{"b":318.7,"p":48,"t":"48.00"},{"b":318.7,"p":47,"t":"47.00"},{"b":318.7,"p":46,"t":"46.00"},{"b":318.7,"p":45,"t":"45.00"},{"b":318.7,"p":44,"t":"44.00"},{"b":318.7,"p":43,"t":"43.00"}]},"mark":{"type":"text","fontSize":8.5,"align":"left","color":"#444"},"encoding":{"y":{"field":"p","type":"quantitative"},"text":{"field":"t"}}},
  {"data":{"values":[{"b":317.5,"b2":324.2,"p":61.34,"p2":60.78}]},"mark":{"type":"rect","color":"#089981"},"encoding":{"x2":{"field":"b2"},"y":{"field":"p","type":"quantitative"},"y2":{"field":"p2"}}},
  {"data":{"values":[{"b":320.85,"p":61.05,"t":"61.05"}]},"mark":{"type":"text","fontSize":8.5,"color":"white"},"encoding":{"y":{"field":"p","type":"quantitative"},"text":{"field":"t"}}}
 ]}
 ],
 "resolve":{"scale":{"y":"independent"}}
}
]
}
